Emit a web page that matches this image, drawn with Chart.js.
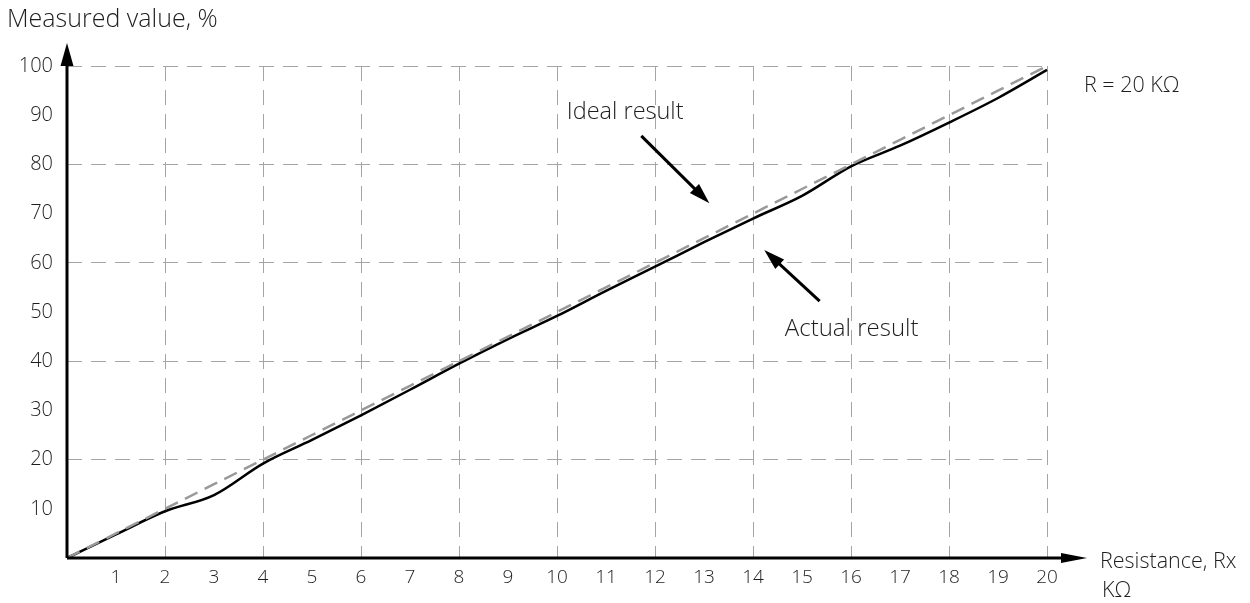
<!DOCTYPE html>
<html>
<head>
<meta charset="utf-8">
<script src="https://cdn.jsdelivr.net/npm/chart.js@4/dist/chart.umd.min.js"></script>
<style>
  html, body { margin: 0; padding: 0; background: #fff; }
  #wrap { width: 1250px; height: 603px; }
</style>
</head>
<body>
<div id="wrap"><canvas id="chart"></canvas></div>
<script>
const resistance = [0, 1, 2, 3, 4, 5, 6, 7, 8, 9, 10, 11, 12, 13, 14, 15, 16, 17, 18, 19, 20];
const actual = [0, 4.8, 9.5, 12.8, 19.2, 24, 29, 34.2, 39.5, 44.5, 49.2, 54.3, 59.2, 64.2, 69, 73.6, 79.6, 83.8, 88.5, 93.5, 99.2];
const ideal = [0, 5, 10, 15, 20, 25, 30, 35, 40, 45, 50, 55, 60, 65, 70, 75, 80, 85, 90, 95, 100];

const yTitle = "Measured value, %";
const xTitle = ["Resistance, Rx", "KΩ"];
const refLabel = "R = 20 KΩ";
// annotations in data units: [tailX, tailY, tipX, tipY]
const idealNote = { text: "Ideal result", at: [10.2, 90.5], arrow: [11.72, 85.8, 13.11, 72.1] };
const actualNote = { text: "Actual result", at: [14.65, 46.5], arrow: [15.36, 52.2, 14.23, 62.6] };

const font = "'Open Sans', 'Liberation Sans', sans-serif";
const ctx = document.getElementById("chart");

function arrowHead(c, x1, y1, x2, y2, len, half) {
    const a = Math.atan2(y2 - y1, x2 - x1);
    c.beginPath();
    c.moveTo(x2, y2);
    c.lineTo(x2 - len * Math.cos(a) + half * Math.sin(a), y2 - len * Math.sin(a) - half * Math.cos(a));
    c.lineTo(x2 - len * Math.cos(a) - half * Math.sin(a), y2 - len * Math.sin(a) + half * Math.cos(a));
    c.closePath();
    c.fill();
}

const decor = {
    id: "decor",
    afterDatasetsDraw(chart) {
        const c = chart.ctx;
        const xs = chart.scales.x, ys = chart.scales.y;
        const x0 = xs.getPixelForValue(0), y0 = ys.getPixelForValue(0);
        const yTop = ys.getPixelForValue(100);
        c.save();
        c.strokeStyle = "#000";
        c.fillStyle = "#000";
        c.lineWidth = 3;
        // axes
        c.beginPath();
        c.moveTo(x0, y0);
        c.lineTo(1065, y0);
        c.moveTo(x0, y0);
        c.lineTo(x0, yTop - 1);
        c.stroke();
        arrowHead(c, x0, y0, 1087, y0, 26, 5);
        arrowHead(c, x0, y0, x0, 43, 23, 6.5);

        // text
        c.fillStyle = "#1e1e1e";
        c.font = "300 25px " + font;
        c.textBaseline = "middle";
        c.textAlign = "left";
        c.fillText(yTitle, 7, 20);
        c.font = "300 21.5px " + font;
        c.fillText(xTitle[0], 1100, 562);
        c.fillText(xTitle[1], 1102, 591);
        c.fillText(refLabel, 1084, 86);

        [idealNote, actualNote].forEach((n, i) => {
            c.fillStyle = "#1e1e1e";
            c.font = "300 " + (i === 0 ? 23.5 : 24) + "px " + font;
            c.fillText(n.text, xs.getPixelForValue(n.at[0]), ys.getPixelForValue(n.at[1]));
            const ax = xs.getPixelForValue(n.arrow[0]), ay = ys.getPixelForValue(n.arrow[1]);
            const bx = xs.getPixelForValue(n.arrow[2]), by = ys.getPixelForValue(n.arrow[3]);
            const a = Math.atan2(by - ay, bx - ax);
            c.strokeStyle = "#000";
            c.fillStyle = "#000";
            c.lineWidth = 3;
            c.beginPath();
            c.moveTo(ax, ay);
            c.lineTo(bx - 12 * Math.cos(a), by - 12 * Math.sin(a));
            c.stroke();
            arrowHead(c, ax, ay, bx, by, 21, 6.5);
        });
        c.restore();
    }
};

new Chart(ctx, {
    type: "line",
    data: {
        labels: resistance,
        datasets: [
            {
                label: "Ideal result",
                data: resistance.map((r, i) => ({ x: r, y: ideal[i] })),
                borderColor: "#999",
                borderWidth: 2.5,
                borderDash: [14, 8],
                pointRadius: 0,
                clip: false
            },
            {
                label: "Actual result",
                data: resistance.map((r, i) => ({ x: r, y: actual[i] })),
                borderColor: "#000",
                borderWidth: 2.5,
                cubicInterpolationMode: "monotone",
                pointRadius: 0,
                clip: false
            }
        ]
    },
    options: {
        responsive: true,
        maintainAspectRatio: false,
        animation: false,
        layout: { padding: { left: 0, top: 66, right: 203, bottom: 0 } },
        plugins: { legend: { display: false }, tooltip: { enabled: false } },
        scales: {
            x: {
                type: "linear",
                min: 0,
                max: 20,
                afterFit(scale) { scale.height = 45; },
                border: { display: false, dash: [15, 9] },
                grid: {
                    drawTicks: false,
                    lineWidth: 1,
                    color: c => (c.tick && c.tick.value > 0 && c.tick.value % 2 === 0) ? "#a5a5a5" : "rgba(0,0,0,0)"
                },
                ticks: {
                    stepSize: 1,
                    padding: 8,
                    color: "#1e1e1e",
                    font: { family: font, size: 19, weight: 300 },
                    maxRotation: 0,
                    autoSkip: false,
                    callback: v => v === 0 ? "" : v
                }
            },
            y: {
                min: 0,
                max: 100,
                afterFit(scale) { scale.width = 67; },
                border: { display: false, dash: [15, 9] },
                grid: {
                    drawTicks: false,
                    lineWidth: 1,
                    color: c => (c.tick && c.tick.value > 0 && c.tick.value % 20 === 0) ? "#a5a5a5" : "rgba(0,0,0,0)"
                },
                ticks: {
                    stepSize: 10,
                    padding: 14,
                    color: "#1e1e1e",
                    font: { family: font, size: 20, weight: 300 },
                    callback: v => v === 0 ? "" : v
                }
            }
        }
    },
    plugins: [decor]
});
</script>
</body>
</html>
